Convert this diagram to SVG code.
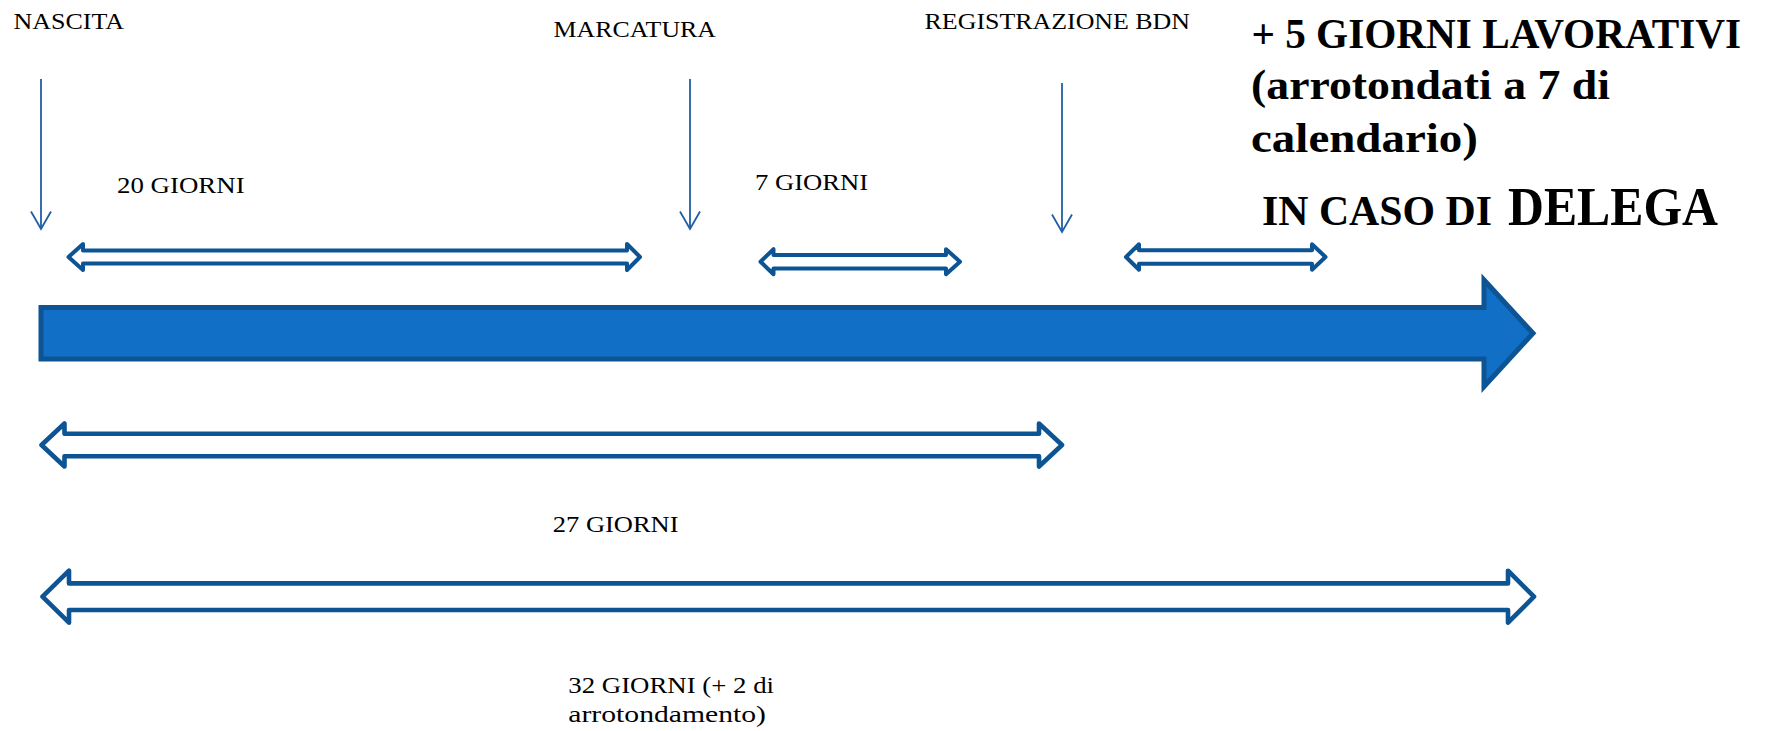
<svg xmlns="http://www.w3.org/2000/svg" width="1766" height="731" viewBox="0 0 1766 731">
<style>
  .lbl { font-family: "Liberation Serif", "Times New Roman", serif; font-size: 24px; fill: #000; }
  .big { font-family: "Liberation Serif", "Times New Roman", serif; font-size: 42px; font-weight: bold; fill: #000; }
  .vline { stroke: #1E5FA6; stroke-width: 1.8; fill: none; }
  .dbl { fill: #fff; stroke: #0D5495; stroke-width: 4; stroke-linejoin: round; }
  .dblL { fill: #fff; stroke: #0D5495; stroke-width: 4.6; stroke-linejoin: round; }
  .main { fill: #1170C6; stroke: #0D5495; stroke-width: 5; stroke-linejoin: miter; }
</style>
<defs>
  <marker id="vhead" viewBox="-20 -12 22 24" markerWidth="22" markerHeight="24" refX="0" refY="0" orient="auto" markerUnits="userSpaceOnUse">
    <path d="M-17.5,-10 L0,0 L-17.5,10" fill="none" stroke="#1E5FA6" stroke-width="1.8"/>
  </marker>
</defs>
<rect width="1766" height="731" fill="#fff"/>

<g id="timeline">
  <path class="main" d="M41,307.5 L1484,307.5 L1484,280 L1533,333.3 L1484,386.5 L1484,359 L41,359 Z"/>
</g>

<g id="connectors">
  <line class="vline" x1="41" y1="79" x2="41" y2="229" marker-end="url(#vhead)"/>
  <line class="vline" x1="690" y1="79" x2="690" y2="229" marker-end="url(#vhead)"/>
  <line class="vline" x1="1062" y1="83" x2="1062" y2="232" marker-end="url(#vhead)"/>
  <path class="dbl" d="M68.5,257 L83,244 L83,250.5 L627,250.5 L627,244 L640,257 L627,270 L627,263.5 L83,263.5 L83,270 Z"/>
  <path class="dbl" d="M760.5,261.7 L773.5,249.2 L773.5,255 L946,255 L946,249.2 L960,261.7 L946,274.2 L946,268.4 L773.5,268.4 L773.5,274.2 Z"/>
  <path class="dbl" d="M1126,257 L1139,244.3 L1139,250.3 L1312,250.3 L1312,244.3 L1325.5,257 L1312,269.7 L1312,263.7 L1139,263.7 L1139,269.7 Z"/>
  <path class="dblL" d="M41.5,445 L64.5,423.5 L64.5,433.7 L1039,433.7 L1039,423.5 L1062,445 L1039,466.5 L1039,456.3 L64.5,456.3 L64.5,466.5 Z"/>
  <path class="dblL" d="M42.5,596.7 L69,570.7 L69,583.4 L1508,583.4 L1508,570.7 L1534,596.7 L1508,622.7 L1508,610 L69,610 L69,622.7 Z"/>
</g>

<g id="nascita">
  <text class="lbl" x="13.4" y="29.3" textLength="110.7" lengthAdjust="spacingAndGlyphs">NASCITA</text>
</g>
<g id="marcatura">
  <text class="lbl" x="553.6" y="36.7" textLength="162.4" lengthAdjust="spacingAndGlyphs">MARCATURA</text>
</g>
<g id="registrazione">
  <text class="lbl" x="924.6" y="29.3" textLength="265.4" lengthAdjust="spacingAndGlyphs">REGISTRAZIONE BDN</text>
</g>
<g id="label-20">
  <text class="lbl" x="117" y="192.7" textLength="127.6" lengthAdjust="spacingAndGlyphs">20 GIORNI</text>
</g>
<g id="label-7">
  <text class="lbl" x="755" y="190" textLength="113" lengthAdjust="spacingAndGlyphs">7 GIORNI</text>
</g>
<g id="label-27">
  <text class="lbl" x="552.8" y="531.7" textLength="125.7" lengthAdjust="spacingAndGlyphs">27 GIORNI</text>
</g>
<g id="label-32">
  <text class="lbl" x="568.3" y="693.3" textLength="205.7" lengthAdjust="spacingAndGlyphs">32 GIORNI (+ 2 di</text>
  <text class="lbl" x="568.3" y="722" textLength="197.7" lengthAdjust="spacingAndGlyphs">arrotondamento)</text>
</g>
<g id="delega-note">
  <text class="big" x="1251.4" y="48.3" textLength="489.6" lengthAdjust="spacingAndGlyphs">+ 5 GIORNI LAVORATIVI</text>
  <text class="big" x="1251" y="99.3" textLength="359" lengthAdjust="spacingAndGlyphs">(arrotondati a 7 di</text>
  <text class="big" x="1251" y="151.7" textLength="227" lengthAdjust="spacingAndGlyphs">calendario)</text>
  <text class="big" x="1262" y="225" textLength="230" lengthAdjust="spacingAndGlyphs">IN CASO DI</text>
  <text class="big" x="1508" y="225" style="font-size:55px" textLength="210" lengthAdjust="spacingAndGlyphs">DELEGA</text>
</g>
</svg>
